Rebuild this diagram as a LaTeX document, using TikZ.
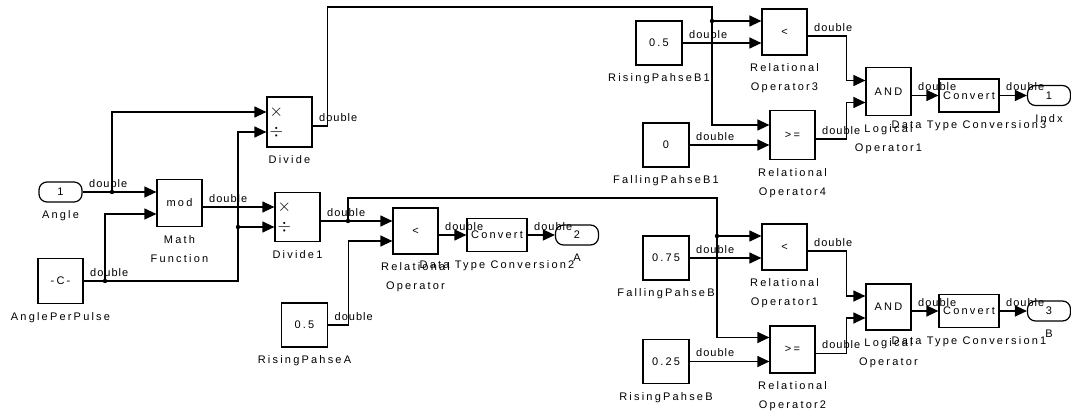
\documentclass[tikz,border=0pt]{standalone}
\usepackage{fontspec}
\setmainfont{Liberation Sans}
\newfontfamily\blkfont[LetterSpace=20]{Liberation Sans}
\newfontfamily\sigfont[LetterSpace=9]{Liberation Sans}
\usetikzlibrary{positioning,arrows.meta}

\begin{document}
\begin{tikzpicture}[x=1pt, y=-1pt, every node/.style={font=\blkfont\fontsize{11}{19}\selectfont, inner sep=0pt}]
    \tikzset{block/.style={rectangle, draw, line width=1.2pt, minimum width=45pt, minimum height=46pt}}
    \tikzset{cnst/.style={block, minimum width=46pt, minimum height=44pt}}
    \tikzset{conv/.style={block, minimum width=60pt, minimum height=33pt}}
    \tikzset{port/.style={rectangle, draw, line width=1.2pt, rounded corners=8pt, minimum width=43pt, minimum height=20pt}}
    \tikzset{blkname/.style={align=center}}
    \tikzset{opsym/.style={font=\fontsize{17}{17}\selectfont}}
    \tikzset{line/.style={draw, line width=1.2pt, -{Triangle[length=12pt, width=11pt]}}}
    \tikzset{sig/.style={font=\sigfont\fontsize{11}{13}\selectfont, anchor=south west, xshift=6pt, yshift=4pt}}

    \useasboundingbox (0,0) rectangle (1071,414);

    % left part
    \node [port] (ang) at (60.5,192) {1};
    \node [block, minimum height=45pt] (app) at (60.5,281) {-C-};
    \node [block, minimum height=47pt] (mod) at (179.5,203) {mod};
    \node [block, minimum height=50pt] (div) at (289.5,122) {};
    \node [block, minimum height=49pt] (div1) at (297.5,217) {};
    \node [opsym] (divx) at ([xshift=10pt, yshift=10pt]div.west) {$\times$};
    \node [opsym] (divd) at ([xshift=10pt, yshift=-10pt]div.west) {$\div$};
    \node [opsym] (div1x) at ([xshift=10pt, yshift=10pt]div1.west) {$\times$};
    \node [opsym] (div1d) at ([xshift=10pt, yshift=-10pt]div1.west) {$\div$};
    \node [block] (rop) at (415.5,231) {<};
    \node [conv] (dtc2) at (497,235) {Convert};
    \node [port] (outA) at (577,235) {2};
    \node [cnst] (rpA) at (304.5,325) {0.5};

    % upper right part
    \node [cnst] (rpB1) at (659,43) {0.5};
    \node [block] (rop3) at (784.5,32) {<};
    \node [cnst] (fpB1) at (666,145) {0};
    \node [block, minimum height=49pt] (rop4) at (792.5,135) {>=};
    \node [block, minimum height=48pt] (and1) at (888.5,91.5) {AND};
    \node [conv] (dtc3) at (969,95.5) {Convert};
    \node [port] (outI) at (1049,95.5) {1};

    % lower right part
    \node [cnst] (fpB) at (666,258) {0.75};
    \node [block] (rop1) at (784.5,247) {<};
    \node [cnst] (rpB) at (666,361.5) {0.25};
    \node [block, minimum height=47pt] (rop2) at (792.5,349.5) {>=};
    \node [block] (and0) at (888.5,307) {AND};
    \node [conv] (dtc1) at (969,311) {Convert};
    \node [port] (outB) at (1049,311) {3};

    % block names
    \node [blkname, below=8pt of ang] (angl) {Angle};
    \node [blkname, below=8pt of app] (appl) {AnglePerPulse};
    \node [blkname, below=8pt of mod] (modl) {Math\\Function};
    \node [blkname, below=8pt of div] (divl) {Divide};
    \node [blkname, below=8pt of div1] (div1l) {Divide1};
    \node [blkname, below=8pt of rop] (ropl) {Relational\\Operator};
    \node [blkname, below=8pt of dtc2] (dtc2l) {Data Type Conversion2};
    \node [blkname, below=8pt of outA] (outAl) {A};
    \node [blkname, below=8pt of rpA] (rpAl) {RisingPahseA};
    \node [blkname, below=8pt of rpB1] (rpB1l) {RisingPahseB1};
    \node [blkname, below=8pt of rop3] (rop3l) {Relational\\Operator3};
    \node [blkname, below=8pt of fpB1] (fpB1l) {FallingPahseB1};
    \node [blkname, below=8pt of rop4] (rop4l) {Relational\\Operator4};
    \node [blkname, below=8pt of and1] (and1l) {Logical\\Operator1};
    \node [blkname, below=8pt of dtc3] (dtc3l) {Data Type Conversion3};
    \node [blkname, below=8pt of outI] (outIl) {Indx};
    \node [blkname, below=8pt of fpB] (fpBl) {FallingPahseB};
    \node [blkname, below=8pt of rop1] (rop1l) {Relational\\Operator1};
    \node [blkname, below=8pt of rpB] (rpBl) {RisingPahseB};
    \node [blkname, below=8pt of rop2] (rop2l) {Relational\\Operator2};
    \node [blkname, below=8pt of and0] (and0l) {Logical\\Operator};
    \node [blkname, below=8pt of dtc1] (dtc1l) {Data Type Conversion1};
    \node [blkname, below=8pt of outB] (outBl) {B};

    % branch points
    \coordinate (b1) at (112,192);
    \coordinate (b2) at (105,281);
    \coordinate (b3) at (238,227);
    \coordinate (t1) at (712,7);
    \coordinate (b4) at (712,21);
    \coordinate (b5) at (348,221);
    \coordinate (t2) at (717,198);
    \coordinate (b6) at (717,236);

    \path [line] (ang.east) node[sig] (s1) {double} -- ([yshift=11pt]mod.west);
    \path [line] (b1) |- ([yshift=10pt]div.west);
    \path [line] (app.east) node[sig] (s2) {double} -| (b3) |- ([yshift=-10pt]div.west);
    \path [line] (b2) |- ([yshift=-11pt]mod.west);
    \path [line] (b3) -- ([yshift=-10pt]div1.west);
    \path [line] ([yshift=-4pt]mod.east) node[sig] (s3) {double} -- ([yshift=10pt]div1.west);
    \path [line] ([yshift=-4pt]div.east) node[sig] (s4) {double} -- ++(15,0) |- (t1) -- (b4) -- ([yshift=11pt]rop3.west);
    \path [line] (b4) |- ([yshift=10pt]rop4.west);
    \path [line] ([yshift=-4pt]div1.east) node[sig] (s5) {double} -- ([yshift=10pt]rop.west);
    \path [line] (b5) |- (t2) -- (b6) -- ([yshift=11pt]rop1.west);
    \path [line] (b6) |- ([yshift=12pt]rop2.west);
    \path [line] (rpA.east) node[sig] (s6) {double} -- ++(20,0) |- ([yshift=-10pt]rop.west);
    \path [line] ([yshift=-4pt]rop.east) node[sig] (s7) {double} -- (dtc2.west);
    \path [line] (dtc2.east) node[sig] (s8) {double} -- (outA.west);

    \path [line] (rpB1.east) node[sig] (s9) {double} -- ([yshift=-11pt]rop3.west);
    \path [line] (fpB1.east) node[sig] (s10) {double} -- ([yshift=-10pt]rop4.west);
    \path [line] ([yshift=-4pt]rop3.east) node[sig] (s11) {double} -- ++(39,0) |- ([yshift=11pt]and1.west);
    \path [line] ([yshift=-4pt]rop4.east) node[sig] (s12) {double} -- ++(31,0) |- ([yshift=-11pt]and1.west);
    \path [line] ([yshift=-4pt]and1.east) node[sig] (s13) {double} -- (dtc3.west);
    \path [line] (dtc3.east) node[sig] (s14) {double} -- (outI.west);

    \path [line] (fpB.east) node[sig] (s15) {double} -- ([yshift=-11pt]rop1.west);
    \path [line] (rpB.east) node[sig] (s16) {double} -- ([yshift=-12pt]rop2.west);
    \path [line] ([yshift=-4pt]rop1.east) node[sig] (s17) {double} -- ++(39,0) |- ([yshift=11pt]and0.west);
    \path [line] ([yshift=-4pt]rop2.east) node[sig] (s18) {double} -- ++(31,0) |- ([yshift=-11pt]and0.west);
    \path [line] ([yshift=-4pt]and0.east) node[sig] (s19) {double} -- (dtc1.west);
    \path [line] (dtc1.east) node[sig] (s20) {double} -- (outB.west);

    \foreach \b in {b1,b2,b3,b4,b5,b6} \fill (\b) circle (2.2pt);
\end{tikzpicture}
\end{document}
